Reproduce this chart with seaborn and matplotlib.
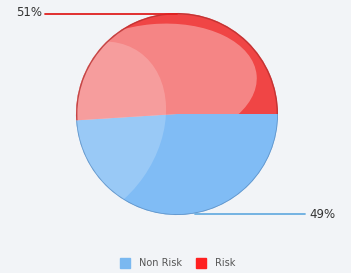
import matplotlib
matplotlib.use("Agg")
import matplotlib.pyplot as plt
import seaborn as sns
from matplotlib.patches import Ellipse

sns.set_theme(style="white")
plt.rcParams['font.family'] = ['DejaVu Sans']

# Data
categories = ['Non Risk', 'Risk']
values = [49, 51]
pct_labels = ['49%', '51%']
colors = ['#80bcf5', '#f04545']
legend_colors = ['#7ab8f0', '#ff2020']

bg = '#f2f4f7'
fig = plt.figure(figsize=(3.51, 2.73), dpi=100, facecolor=bg)
ax = fig.add_axes([0, 0, 1, 1])
ax.set_facecolor(bg)
ax.set_xlim(0, 351)
ax.set_ylim(273, 0)

cx, cy, r = 177, 114, 101
# y axis is inverted, so counterclock=True runs clockwise on screen
wedges, _ = ax.pie(values, colors=colors, startangle=0, counterclock=True,
                   center=(cx, cy), radius=r, frame=True,
                   wedgeprops=dict(linewidth=0))

# glossy highlights clipped to the slices
hl = Ellipse((cx - 20, cy - 30), 200, 120, angle=-5, facecolor='white', alpha=0.35, lw=0)
ax.add_patch(hl)
hl.set_clip_path(wedges[1])
for w in wedges:
    hl2 = Ellipse((cx - 95, cy + 20), 150, 200, angle=35, facecolor='white', alpha=0.2, lw=0)
    ax.add_patch(hl2)
    hl2.set_clip_path(w)

# rims
ax.add_patch(Ellipse((cx, cy), 2 * r, 2 * r, facecolor='none',
                     edgecolor='#b83030', lw=2, alpha=0.8, zorder=3)).set_clip_path(wedges[1])
ax.add_patch(Ellipse((cx, cy), 2 * r, 2 * r, facecolor='none',
                     edgecolor='#5a8cc0', lw=1.2, alpha=0.8, zorder=3)).set_clip_path(wedges[0])

# leader labels
ax.plot([45, cx], [cy - r + 0.5, cy - r + 0.5], color='#e02020', lw=1.3, zorder=4)
ax.text(42, cy - r, pct_labels[1], ha='right', va='center', fontsize=8.5, color='#333333')
ax.plot([195, 305], [cy + r - 1, cy + r - 1], color='#6aaee0', lw=1.3, zorder=4)
ax.text(309, cy + r - 1, pct_labels[0], ha='left', va='center', fontsize=8.5, color='#333333')

# legend
handles = [plt.Line2D([], [], marker='s', linestyle='', markersize=6.5,
                      color=c) for c in legend_colors]
ax.legend(handles, categories, loc='center', bbox_to_anchor=(0.5, 0.035),
          ncol=2, frameon=False, fontsize=7, handletextpad=0.5,
          columnspacing=0.9, labelcolor='#555555')

ax.set_xticks([])
ax.set_yticks([])
for s in ax.spines.values():
    s.set_visible(False)

fig.savefig('out.png', dpi=100, facecolor=bg)
